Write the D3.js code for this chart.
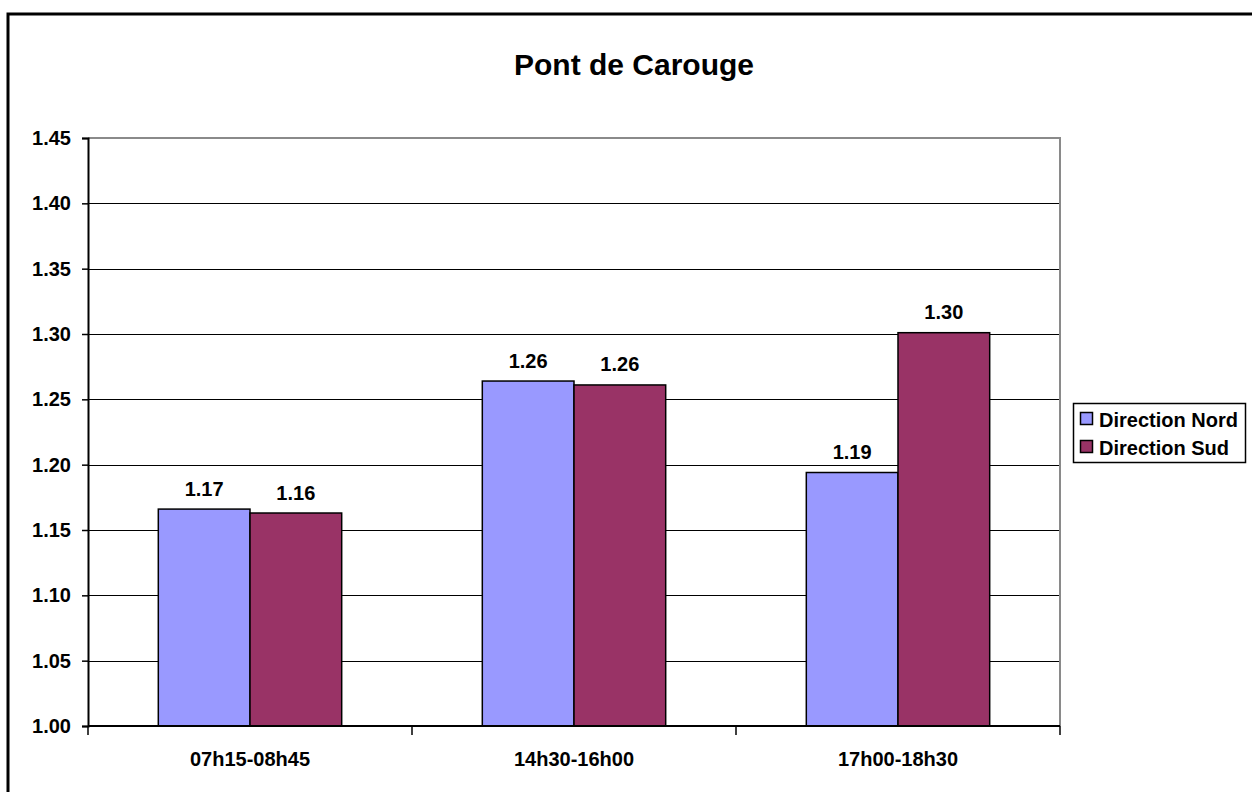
<!DOCTYPE html>
<html>
<head>
<meta charset="utf-8">
<script src="https://cdn.jsdelivr.net/npm/d3@7"></script>
<style>
  html, body { margin: 0; padding: 0; background: #fff; }
  svg { display: block; font-family: "Liberation Sans", Arial, sans-serif; }
</style>
</head>
<body>
<svg id="chart" width="1252" height="792"></svg>
<script>
const title = "Pont de Carouge";
const categories = ["07h15-08h45", "14h30-16h00", "17h00-18h30"];
const seriesNames = ["Direction Nord", "Direction Sud"];
const nordValues = [1.166, 1.264, 1.194];
const sudValues = [1.163, 1.261, 1.301];
const yTicks = [1.00, 1.05, 1.10, 1.15, 1.20, 1.25, 1.30, 1.35, 1.40, 1.45];
const colors = ["#9999FF", "#993366"];

const data = categories.map((c, i) => ({cat: c, values: [nordValues[i], sudValues[i]]}));

const svg = d3.select("#chart");
const W = 1252, H = 792;
const plot = {left: 88, right: 1060, top: 138, bottom: 726};
const FS = 20;

svg.append("rect").attr("x", 0).attr("y", 0).attr("width", W).attr("height", H).attr("fill", "#fff");
// outer border (extends beyond the frame on right/bottom)
svg.append("rect").attr("x", 8).attr("y", 14).attr("width", 1400).attr("height", 1000)
  .attr("fill", "none").attr("stroke", "#000").attr("stroke-width", 3);

const y = d3.scaleLinear().domain([1.0, 1.45]).range([plot.bottom, plot.top]);
const p = 0.434;
const x0 = d3.scaleBand().domain(categories).range([plot.left, plot.right])
  .paddingInner(p).paddingOuter(p / 2);
const x1 = d3.scaleBand().domain(seriesNames).range([0, x0.bandwidth()]);

// gridlines
svg.append("g").selectAll("line").data(yTicks.filter(t => t > 1.0 && t < 1.45)).join("line")
  .attr("x1", plot.left).attr("x2", plot.right)
  .attr("y1", d => Math.round(y(d)) + 0.5).attr("y2", d => Math.round(y(d)) + 0.5)
  .attr("stroke", "#000").attr("stroke-width", 1.2);

// plot border top/right (gray)
svg.append("path")
  .attr("d", `M${plot.left},${plot.top} H${plot.right} V${plot.bottom}`)
  .attr("fill", "none").attr("stroke", "#8a8a8a").attr("stroke-width", 2);

// bars
const groups = svg.append("g").selectAll("g").data(data).join("g")
  .attr("transform", d => `translate(${x0(d.cat)},0)`);
groups.selectAll("rect").data(d => d.values.map((v, i) => ({v, s: seriesNames[i], i}))).join("rect")
  .attr("x", d => x1(d.s))
  .attr("y", d => y(d.v))
  .attr("width", x1.bandwidth())
  .attr("height", d => y(1.0) - y(d.v))
  .attr("fill", d => colors[d.i])
  .attr("stroke", "#000").attr("stroke-width", 1.5);

// data labels
groups.selectAll("text").data(d => d.values.map((v, i) => ({v, s: seriesNames[i]}))).join("text")
  .attr("x", d => x1(d.s) + x1.bandwidth() / 2)
  .attr("y", d => y(d.v) - 13.5)
  .attr("text-anchor", "middle")
  .attr("font-weight", "bold").attr("font-size", FS)
  .text(d => d3.format(".2f")(d.v));

// y axis
const yAxis = d3.axisLeft(y).tickValues(yTicks).tickFormat(d3.format(".2f")).tickSize(6).tickPadding(11);
const gy = svg.append("g").attr("transform", `translate(${plot.left},0)`).call(yAxis);
gy.select(".domain").attr("stroke", "#000").attr("stroke-width", 2);
gy.selectAll(".tick line").attr("stroke", "#000").attr("stroke-width", 1.5);
gy.selectAll(".tick text").attr("font-size", FS).attr("font-weight", "bold").attr("fill", "#000")
  .attr("font-family", "Liberation Sans, Arial, sans-serif");

// x axis baseline and category ticks
svg.append("line").attr("x1", plot.left).attr("x2", plot.right)
  .attr("y1", plot.bottom).attr("y2", plot.bottom)
  .attr("stroke", "#000").attr("stroke-width", 2);
const bounds = d3.range(categories.length + 1).map(i => plot.left + i * x0.step());
svg.append("g").selectAll("line").data(bounds).join("line")
  .attr("x1", d => d).attr("x2", d => d)
  .attr("y1", plot.bottom).attr("y2", plot.bottom + 9)
  .attr("stroke", "#000").attr("stroke-width", 1.5);
svg.append("g").selectAll("text").data(categories).join("text")
  .attr("x", d => x0(d) + x0.bandwidth() / 2)
  .attr("y", 766)
  .attr("text-anchor", "middle")
  .attr("font-weight", "bold").attr("font-size", FS)
  .text(d => d);

// title
svg.append("text").attr("x", 634).attr("y", 75).attr("text-anchor", "middle")
  .attr("font-weight", "bold").attr("font-size", 30).text(title);

// legend
const lg = svg.append("g");
lg.append("rect").attr("x", 1073.5).attr("y", 403.5).attr("width", 172).attr("height", 59)
  .attr("fill", "#fff").attr("stroke", "#000").attr("stroke-width", 1.5);
seriesNames.forEach((s, i) => {
  const cy = 418.5 + i * 28;
  lg.append("rect").attr("x", 1080.5).attr("y", cy - 6).attr("width", 12).attr("height", 12)
    .attr("fill", colors[i]).attr("stroke", "#000").attr("stroke-width", 1.5);
  lg.append("text").attr("x", 1099).attr("y", cy + 8).attr("font-weight", "bold")
    .attr("font-size", FS).text(s);
});
</script>
</body>
</html>
